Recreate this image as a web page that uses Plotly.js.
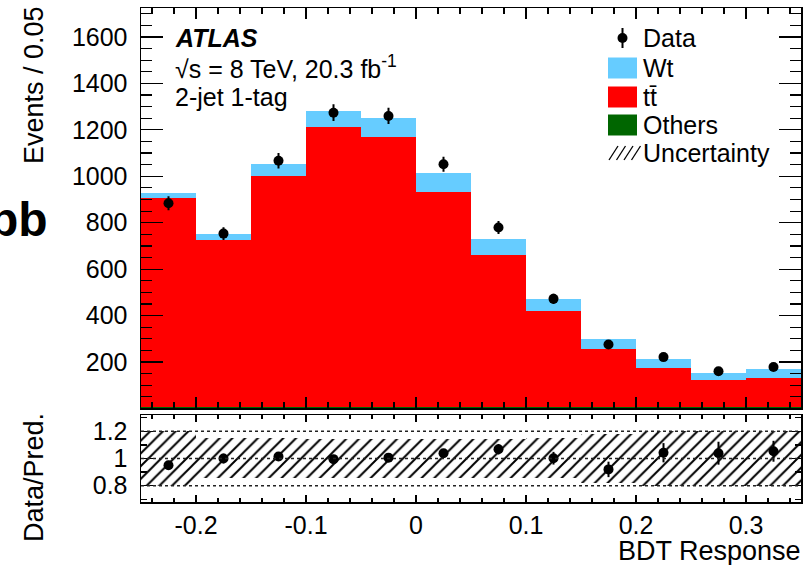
<!DOCTYPE html>
<html>
<head>
<meta charset="utf-8">
<script src="https://cdn.plot.ly/plotly-3.0.1.min.js"></script>
<style>
  html, body { margin: 0; padding: 0; background: #ffffff; }
  #chart { width: 812px; height: 565px; }
</style>
</head>
<body>
<div id="chart"></div>
<script>
// BDT response bins (width 0.05), 2-jet 1-tag region
const binCenters = [-0.225, -0.175, -0.125, -0.075, -0.025, 0.025, 0.075, 0.125, 0.175, 0.225, 0.275, 0.325];
const binWidth = 0.05;

// Stacked predictions (events / 0.05)
const others = [8, 7, 8, 8, 7, 8, 7, 6, 5, 4, 4, 4];
const ttbar  = [898, 718, 993, 1203, 1161, 925, 652, 412, 251, 169, 117, 127];
const wt     = [24, 28, 50, 69, 84, 80, 70, 53, 43, 39, 33, 38];

// Observed data with statistical errors
const dataCounts = [884, 753, 1067, 1274, 1260, 1052, 779, 472, 275, 221, 160, 178];
const dataErr    = [30, 27, 33, 36, 35, 32, 28, 22, 17, 15, 13, 13];

// Relative uncertainty band on the prediction (lower / upper edge of Data/Pred.)
const uncLow  = [0.80, 0.86, 0.86, 0.86, 0.86, 0.86, 0.86, 0.86, 0.82, 0.80, 0.80, 0.80];
const uncHigh = [1.20, 1.15, 1.15, 1.14, 1.14, 1.14, 1.14, 1.15, 1.18, 1.20, 1.20, 1.20];

// Axis ticks
const mainYTicks = [200, 400, 600, 800, 1000, 1200, 1400, 1600];
const xTickVals = [-0.2, -0.1, 0, 0.1, 0.2, 0.3];
const xTickText = ['-0.2', '-0.1', '0', '0.1', '0.2', '0.3'];
const ratioTickVals = [0.8, 1, 1.2];
const ratioTickText = ['0.8', '1', '1.2'];

// Legend entries
const legendLabels = ['Data', 'Wt', 'tt\u0304', 'Others', 'Uncertainty'];

const colWt = '#66ccff';
const colTT = '#ff0000';
const colOthers = '#006600';

const W = 812, H = 565;
const px = x => x / W;
const py = y => 1 - y / H;

const FONT = 'Liberation Sans, Arial, sans-serif';
const FS = 25;      // tick labels, legend, labels
const FT = 27;      // axis titles

// Data / prediction ratio
const pred = binCenters.map((_, i) => others[i] + ttbar[i] + wt[i]);
const ratio = dataCounts.map((d, i) => d / pred[i]);
const ratioErr = dataErr.map((e, i) => e / pred[i]);

const widths = binCenters.map(() => binWidth);

const traces = [
  { type: 'bar', x: binCenters, y: others, width: widths, xaxis: 'x', yaxis: 'y',
    marker: { color: colOthers, line: { width: 0 } }, showlegend: false, hoverinfo: 'skip' },
  { type: 'bar', x: binCenters, y: ttbar, width: widths, xaxis: 'x', yaxis: 'y',
    marker: { color: colTT, line: { width: 0 } }, showlegend: false, hoverinfo: 'skip' },
  { type: 'bar', x: binCenters, y: wt, width: widths, xaxis: 'x', yaxis: 'y',
    marker: { color: colWt, line: { width: 0 } }, showlegend: false, hoverinfo: 'skip' },
  { type: 'scatter', mode: 'markers', x: binCenters, y: dataCounts, xaxis: 'x', yaxis: 'y',
    marker: { color: 'black', size: 10 },
    error_y: { type: 'data', array: dataErr, visible: true, color: 'black', thickness: 2, width: 0 },
    showlegend: false, hoverinfo: 'skip' },
  // hatched uncertainty band in the ratio panel
  { type: 'bar', x: binCenters, y: uncHigh.map((h, i) => h - uncLow[i]), base: uncLow, width: widths,
    xaxis: 'x2', yaxis: 'y2',
    marker: { color: 'rgba(0,0,0,0)', line: { width: 0 },
      pattern: { shape: '/', fgcolor: 'black', bgcolor: 'rgba(0,0,0,0)', size: 9, solidity: 0.22 } },
    showlegend: false, hoverinfo: 'skip' },
  { type: 'scatter', mode: 'markers', x: binCenters, y: ratio, xaxis: 'x2', yaxis: 'y2',
    marker: { color: 'black', size: 10 },
    error_y: { type: 'data', array: ratioErr, visible: true, color: 'black', thickness: 2, width: 0 },
    showlegend: false, hoverinfo: 'skip' }
];

const frame = { showline: true, linecolor: 'black', linewidth: 1.5, mirror: 'allticks',
  showgrid: false, zeroline: false, ticks: 'inside', tickcolor: 'black', tickwidth: 1.2 };

const layout = {
  width: W, height: H,
  margin: { l: 0, r: 0, t: 0, b: 0 },
  paper_bgcolor: 'white', plot_bgcolor: 'white',
  barmode: 'stack', bargap: 0,
  showlegend: false,
  font: { family: FONT, size: FS, color: 'black' },
  xaxis: Object.assign({}, frame, {
    domain: [px(141), px(801)], range: [-0.25, 0.35], anchor: 'y',
    tickvals: xTickVals, showticklabels: false, ticklen: 11,
    minor: { dtick: 0.02, tick0: 0, ticks: 'inside', ticklen: 6, tickcolor: 'black', tickwidth: 1.2 }
  }),
  yaxis: Object.assign({}, frame, {
    domain: [py(408.4), py(8)], range: [0, 1725], anchor: 'x',
    tickvals: mainYTicks, ticklen: 22, ticklabelstandoff: 7,
    tickfont: { family: FONT, size: FS },
    minor: { dtick: 50, tick0: 0, ticks: 'inside', ticklen: 11, tickcolor: 'black', tickwidth: 1.2 }
  }),
  xaxis2: Object.assign({}, frame, {
    domain: [px(141), px(801)], range: [-0.25, 0.35], anchor: 'y2',
    tickvals: xTickVals, ticktext: xTickText, ticklen: 7, ticklabelstandoff: 0,
    tickfont: { family: FONT, size: FS },
    minor: { dtick: 0.02, tick0: 0, ticks: 'inside', ticklen: 4, tickcolor: 'black', tickwidth: 1.2 }
  }),
  yaxis2: Object.assign({}, frame, {
    domain: [py(502), py(415)], range: [0.68, 1.32], anchor: 'x2',
    tickvals: ratioTickVals, ticktext: ratioTickText, ticklen: 12, ticklabelstandoff: 7,
    tickfont: { family: FONT, size: FS },
    minor: { dtick: 0.1, tick0: 0, ticks: 'inside', ticklen: 6, tickcolor: 'black', tickwidth: 1.2 }
  }),
  shapes: [],
  annotations: []
};

// dotted reference lines in the ratio panel
ratioTickVals.forEach(v => {
  layout.shapes.push({ type: 'line', xref: 'x2 domain', yref: 'y2', x0: 0, x1: 1, y0: v, y1: v,
    layer: 'above', line: { color: '#222', width: 1.5, dash: 'dot' } });
});

// legend: Data marker
const legX0 = 608, legX1 = 637, legTextX = 641;
const legRows = [38, 68, 97, 125, 153];
layout.shapes.push({ type: 'line', xref: 'paper', yref: 'paper',
  x0: px(622.5), x1: px(622.5), y0: py(legRows[0] - 10), y1: py(legRows[0] + 10),
  line: { color: 'black', width: 2 } });
layout.shapes.push({ type: 'circle', xref: 'paper', yref: 'paper',
  x0: px(617.5), x1: px(627.5), y0: py(legRows[0] + 5), y1: py(legRows[0] - 5),
  fillcolor: 'black', line: { color: 'black', width: 0 } });
// legend: filled boxes
[colWt, colTT, colOthers].forEach((c, k) => {
  const yc = legRows[k + 1];
  layout.shapes.push({ type: 'rect', xref: 'paper', yref: 'paper',
    x0: px(legX0), x1: px(legX1), y0: py(yc + 10.5), y1: py(yc - 10.5),
    fillcolor: c, line: { width: 0 } });
});
// legend: hatch icon
const yU = legRows[4];
for (let k = 0; k < 4; k++) {
  const xs = legX0 + 1 + k * 7.5;
  layout.shapes.push({ type: 'line', xref: 'paper', yref: 'paper',
    x0: px(xs), y0: py(yU + 7), x1: px(xs + 9), y1: py(yU - 7),
    line: { color: 'black', width: 1.3 } });
}
legendLabels.forEach((t, k) => {
  layout.annotations.push({ text: t, xref: 'paper', yref: 'paper', x: px(legTextX), y: py(legRows[k]),
    xanchor: 'left', yanchor: 'middle', showarrow: false, font: { family: FONT, size: FS } });
});

// experiment labels
layout.annotations.push(
  { text: '<b><i>ATLAS</i></b>', xref: 'paper', yref: 'paper', x: px(173), y: py(38),
    xanchor: 'left', yanchor: 'middle', showarrow: false, font: { family: FONT, size: FS } },
  { text: '\u221As = 8 TeV, 20.3 fb<sup>-1</sup>', xref: 'paper', yref: 'paper', x: px(173), y: py(67),
    xanchor: 'left', yanchor: 'middle', showarrow: false, font: { family: FONT, size: FS } },
  { text: '2-jet 1-tag', xref: 'paper', yref: 'paper', x: px(173), y: py(97),
    xanchor: 'left', yanchor: 'middle', showarrow: false, font: { family: FONT, size: FS } },
  // axis titles
  { text: 'Events / 0.05', xref: 'paper', yref: 'paper', x: px(34), y: py(4),
    xanchor: 'center', yanchor: 'top', textangle: -90, showarrow: false, font: { family: FONT, size: FT } },
  { text: 'Data/Pred.', xref: 'paper', yref: 'paper', x: px(34), y: py(478),
    xanchor: 'center', yanchor: 'middle', textangle: -90, showarrow: false, font: { family: FONT, size: FT } },
  { text: 'BDT Response', xref: 'paper', yref: 'paper', x: px(803), y: py(551),
    xanchor: 'right', yanchor: 'middle', showarrow: false, font: { family: FONT, size: FT } },
  // channel label at the left edge
  { text: '<b>bb</b>', xref: 'paper', yref: 'paper', x: px(50), y: py(220),
    xanchor: 'right', yanchor: 'middle', showarrow: false, font: { family: FONT, size: 48 } }
);

Plotly.newPlot('chart', traces, layout, { staticPlot: true, displayModeBar: false });
</script>
</body>
</html>
